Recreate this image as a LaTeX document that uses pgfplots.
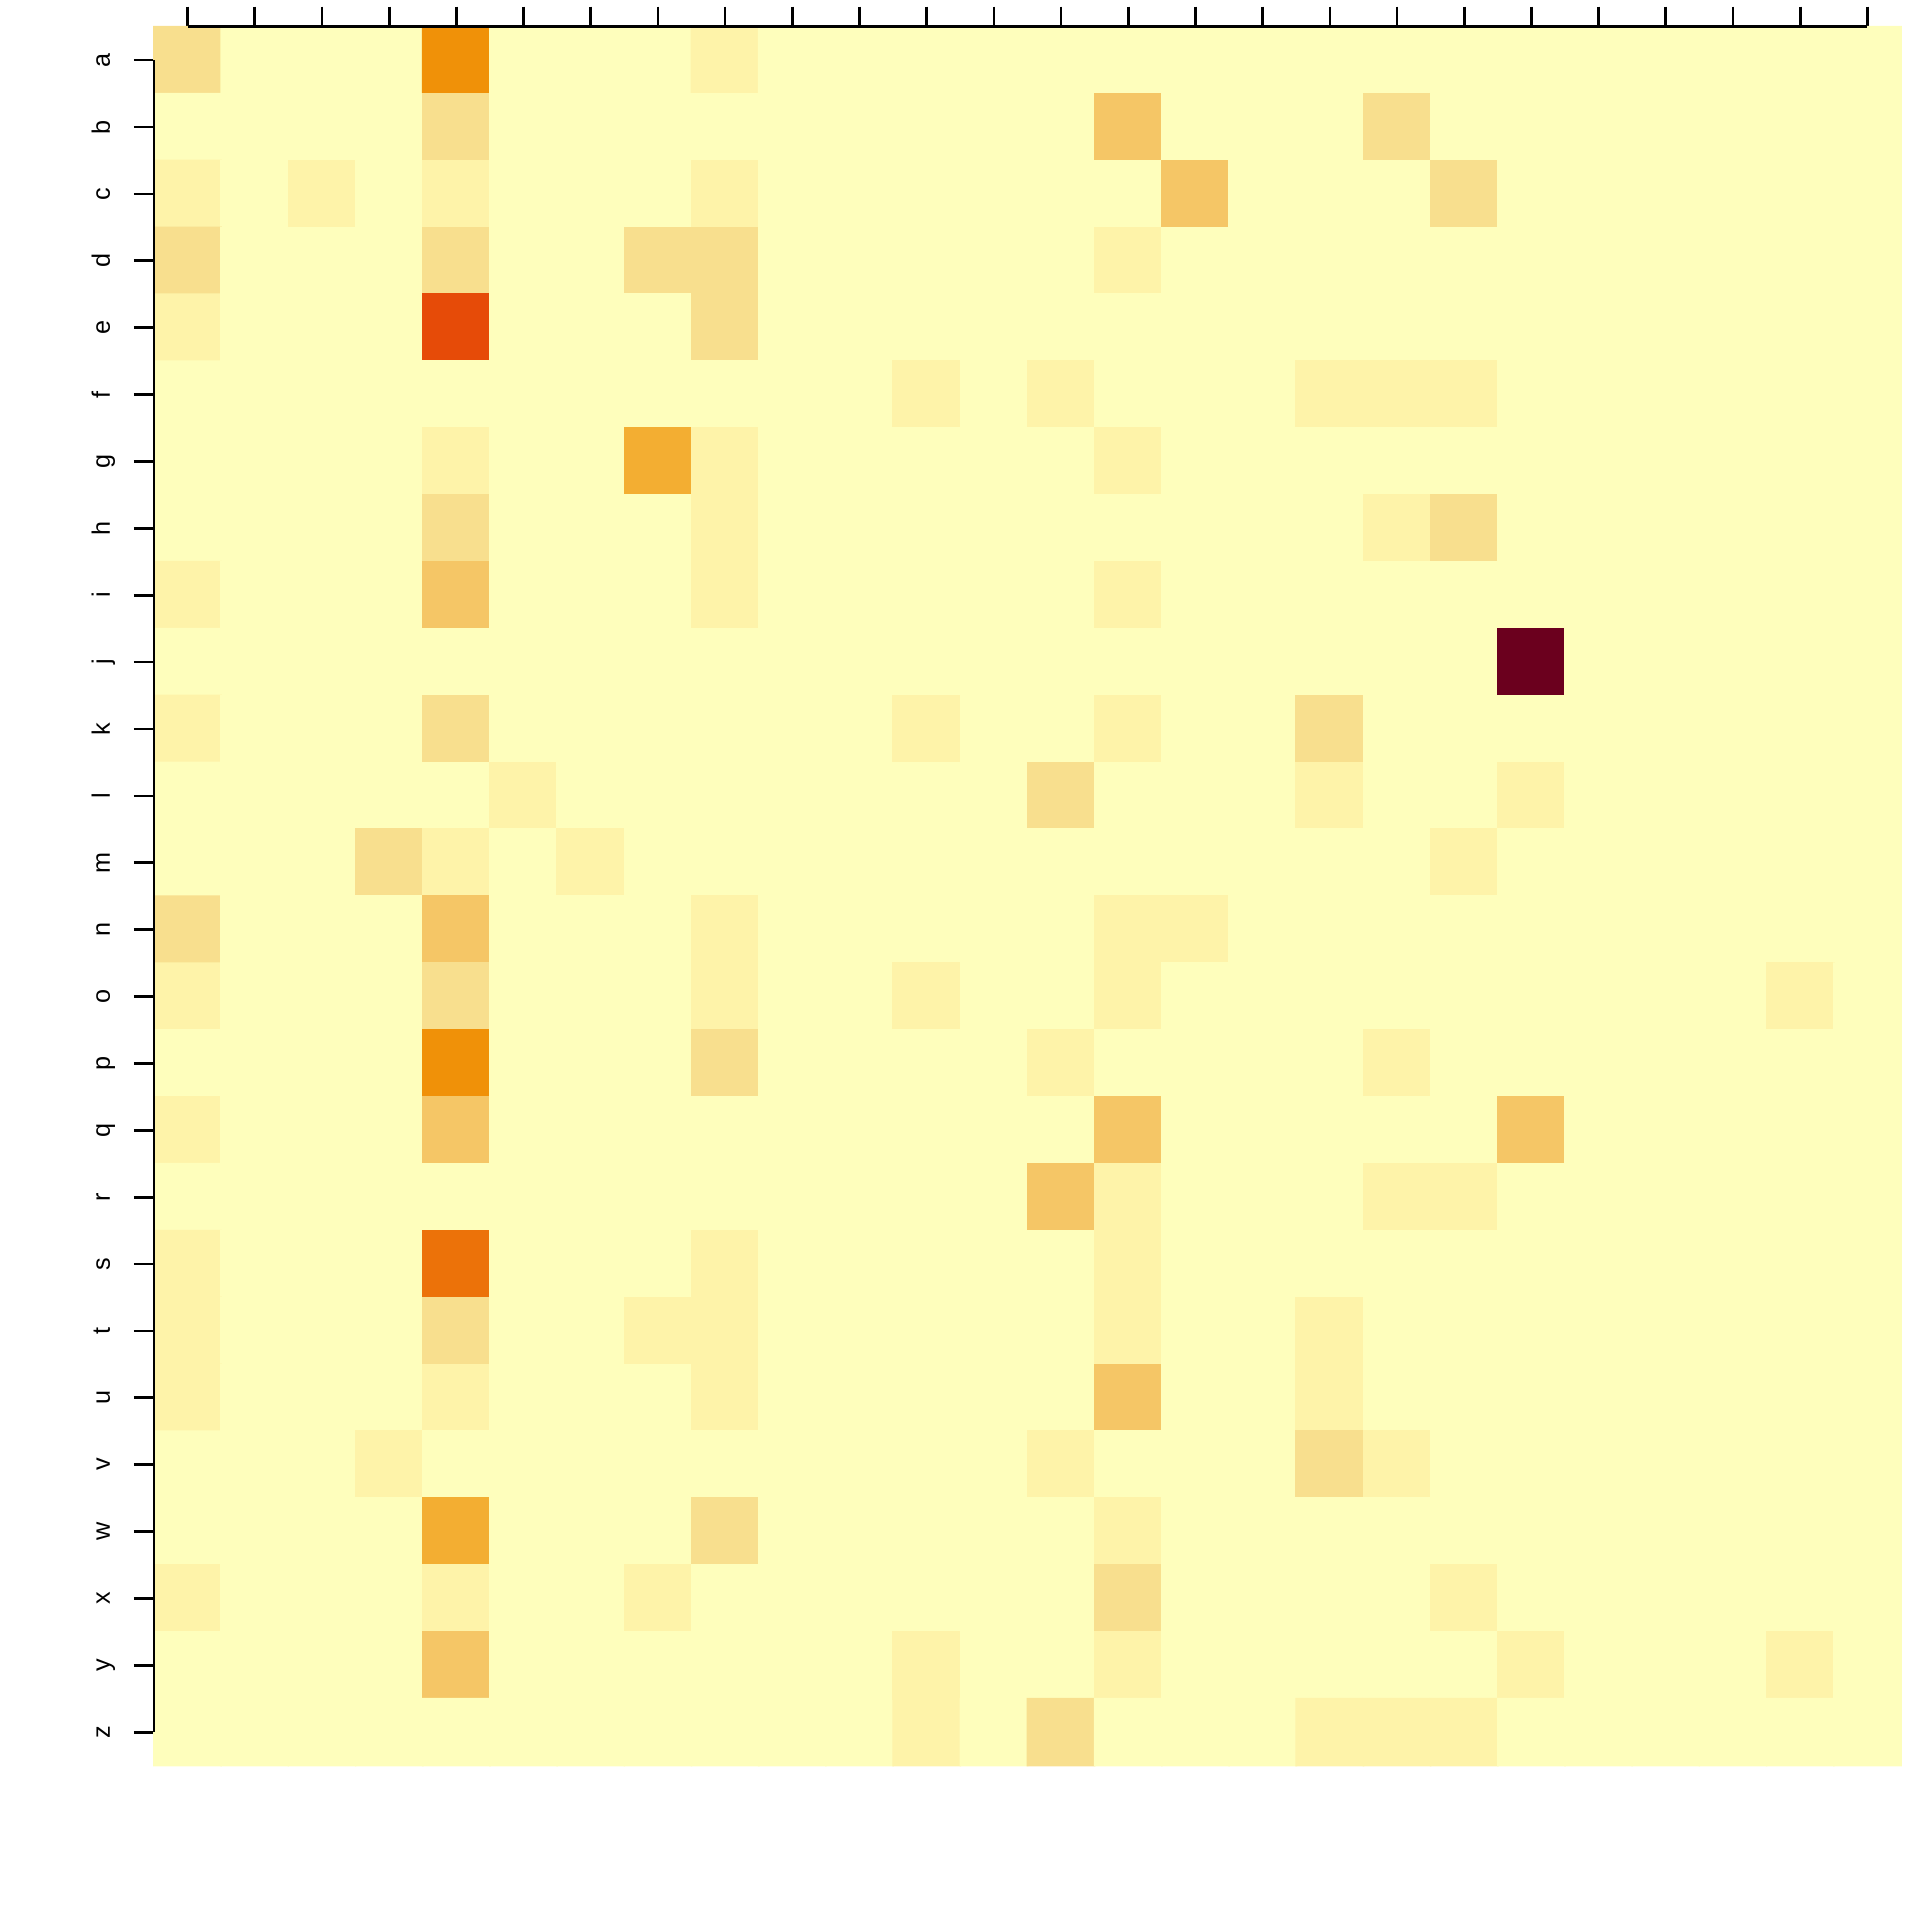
\documentclass[border=0pt]{standalone}
\usepackage{fontspec}
\setmainfont{Liberation Sans}
\usepackage{pgfplots}
\pgfplotsset{compat=1.18}
\begin{document}
\begin{tikzpicture}
\path[use as bounding box] (-38.5pt,-38.58pt) rectangle (441.5pt,441.42pt);
\begin{axis}[
  at={(0,0)}, anchor=south west,
  scale only axis, width=436.75pt, height=434.75pt,
  xmin=0.5, xmax=26.5, ymin=0.5, ymax=26.5,
  clip=false,
  axis line style={draw=none},
  xtick={1,...,26}, xticklabels={},
  xtick pos=right,
  ytick={1,...,26},
  yticklabels={z,y,x,w,v,u,t,s,r,q,p,o,n,m,l,k,j,i,h,g,f,e,d,c,b,a},
  ytick pos=left,
  tick align=outside,
  major tick length=5pt,
  tick style={black, line width=0.67pt},
  yticklabel shift=6pt,
  yticklabel style={rotate=90, anchor=base, font=\fontsize{6.3}{7}\selectfont},
  colormap={heat}{rgb255=(254,254,188) rgb255=(254,243,169) rgb255=(248,223,142)
    rgb255=(245,198,102) rgb255=(243,174,50) rgb255=(240,145,8) rgb255=(236,114,9)
    rgb255=(230,75,8) rgb255=(106,0,30)},
  point meta min=0, point meta max=8,
]
% rows a (top) ... z (bottom), 26 columns each
\addplot[matrix plot*, mesh/cols=26, point meta=explicit]
  table[header=false, row sep=\\, meta index=0,
        x expr={round(\coordindex-26*floor((\coordindex+0.5)/26))+1},
        y expr={26-floor((\coordindex+0.5)/26)}] {
2\\0\\0\\0\\5\\0\\0\\0\\1\\0\\0\\0\\0\\0\\0\\0\\0\\0\\0\\0\\0\\0\\0\\0\\0\\0\\
0\\0\\0\\0\\2\\0\\0\\0\\0\\0\\0\\0\\0\\0\\3\\0\\0\\0\\2\\0\\0\\0\\0\\0\\0\\0\\
1\\0\\1\\0\\1\\0\\0\\0\\1\\0\\0\\0\\0\\0\\0\\3\\0\\0\\0\\2\\0\\0\\0\\0\\0\\0\\
2\\0\\0\\0\\2\\0\\0\\2\\2\\0\\0\\0\\0\\0\\1\\0\\0\\0\\0\\0\\0\\0\\0\\0\\0\\0\\
1\\0\\0\\0\\7\\0\\0\\0\\2\\0\\0\\0\\0\\0\\0\\0\\0\\0\\0\\0\\0\\0\\0\\0\\0\\0\\
0\\0\\0\\0\\0\\0\\0\\0\\0\\0\\0\\1\\0\\1\\0\\0\\0\\1\\1\\1\\0\\0\\0\\0\\0\\0\\
0\\0\\0\\0\\1\\0\\0\\4\\1\\0\\0\\0\\0\\0\\1\\0\\0\\0\\0\\0\\0\\0\\0\\0\\0\\0\\
0\\0\\0\\0\\2\\0\\0\\0\\1\\0\\0\\0\\0\\0\\0\\0\\0\\0\\1\\2\\0\\0\\0\\0\\0\\0\\
1\\0\\0\\0\\3\\0\\0\\0\\1\\0\\0\\0\\0\\0\\1\\0\\0\\0\\0\\0\\0\\0\\0\\0\\0\\0\\
0\\0\\0\\0\\0\\0\\0\\0\\0\\0\\0\\0\\0\\0\\0\\0\\0\\0\\0\\0\\8\\0\\0\\0\\0\\0\\
1\\0\\0\\0\\2\\0\\0\\0\\0\\0\\0\\1\\0\\0\\1\\0\\0\\2\\0\\0\\0\\0\\0\\0\\0\\0\\
0\\0\\0\\0\\0\\1\\0\\0\\0\\0\\0\\0\\0\\2\\0\\0\\0\\1\\0\\0\\1\\0\\0\\0\\0\\0\\
0\\0\\0\\2\\1\\0\\1\\0\\0\\0\\0\\0\\0\\0\\0\\0\\0\\0\\0\\1\\0\\0\\0\\0\\0\\0\\
2\\0\\0\\0\\3\\0\\0\\0\\1\\0\\0\\0\\0\\0\\1\\1\\0\\0\\0\\0\\0\\0\\0\\0\\0\\0\\
1\\0\\0\\0\\2\\0\\0\\0\\1\\0\\0\\1\\0\\0\\1\\0\\0\\0\\0\\0\\0\\0\\0\\0\\1\\0\\
0\\0\\0\\0\\5\\0\\0\\0\\2\\0\\0\\0\\0\\1\\0\\0\\0\\0\\1\\0\\0\\0\\0\\0\\0\\0\\
1\\0\\0\\0\\3\\0\\0\\0\\0\\0\\0\\0\\0\\0\\3\\0\\0\\0\\0\\0\\3\\0\\0\\0\\0\\0\\
0\\0\\0\\0\\0\\0\\0\\0\\0\\0\\0\\0\\0\\3\\1\\0\\0\\0\\1\\1\\0\\0\\0\\0\\0\\0\\
1\\0\\0\\0\\6\\0\\0\\0\\1\\0\\0\\0\\0\\0\\1\\0\\0\\0\\0\\0\\0\\0\\0\\0\\0\\0\\
1\\0\\0\\0\\2\\0\\0\\1\\1\\0\\0\\0\\0\\0\\1\\0\\0\\1\\0\\0\\0\\0\\0\\0\\0\\0\\
1\\0\\0\\0\\1\\0\\0\\0\\1\\0\\0\\0\\0\\0\\3\\0\\0\\1\\0\\0\\0\\0\\0\\0\\0\\0\\
0\\0\\0\\1\\0\\0\\0\\0\\0\\0\\0\\0\\0\\1\\0\\0\\0\\2\\1\\0\\0\\0\\0\\0\\0\\0\\
0\\0\\0\\0\\4\\0\\0\\0\\2\\0\\0\\0\\0\\0\\1\\0\\0\\0\\0\\0\\0\\0\\0\\0\\0\\0\\
1\\0\\0\\0\\1\\0\\0\\1\\0\\0\\0\\0\\0\\0\\2\\0\\0\\0\\0\\1\\0\\0\\0\\0\\0\\0\\
0\\0\\0\\0\\3\\0\\0\\0\\0\\0\\0\\1\\0\\0\\1\\0\\0\\0\\0\\0\\1\\0\\0\\0\\1\\0\\
0\\0\\0\\0\\0\\0\\0\\0\\0\\0\\0\\1\\0\\2\\0\\0\\0\\1\\1\\1\\0\\0\\0\\0\\0\\0\\
};
\draw[black, line width=0.67pt] (axis cs:1,26.5) -- (axis cs:26,26.5);
\draw[black, line width=0.67pt] (axis cs:0.5,1) -- (axis cs:0.5,26);
\end{axis}
\end{tikzpicture}
\end{document}
